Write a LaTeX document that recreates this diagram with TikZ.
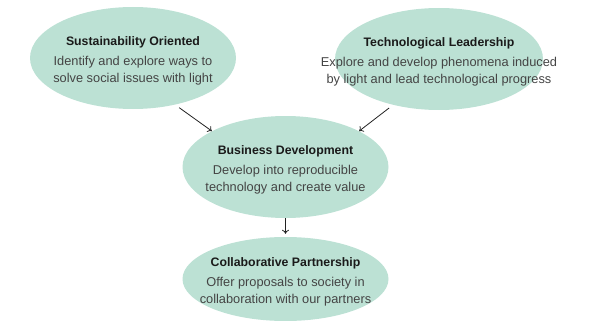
\documentclass[tikz,border=0pt]{standalone}
\usepackage{fontspec}
\setmainfont{Liberation Sans}
\usetikzlibrary{shapes.geometric,arrows.meta}
\definecolor{mint}{RGB}{188,225,212}
\definecolor{titleink}{RGB}{26,26,26}
\definecolor{bodyink}{RGB}{68,68,68}
\definecolor{arrowink}{RGB}{34,34,34}
\tikzset{
  bubble/.style={ellipse, fill=mint, draw=none, inner sep=0pt,
    minimum width=206pt, minimum height=102pt},
  textblock/.style={inner sep=0pt, align=center,
    font=\fontsize{12.8}{17}\selectfont, text=bodyink},
  link/.style={draw=arrowink, line width=0.8pt, -{To[length=4pt,width=7pt]}},
}
\newcommand{\bubbletitle}[1]{{\fontsize{12.3}{17}\selectfont\bfseries\color{titleink}#1}\\[3pt]}
\begin{document}
\begin{tikzpicture}[x=1pt,y=-1pt]
  \useasboundingbox (0,0) rectangle (592,321);
  % ellipses
  \node[bubble] (sus) at (133,58) {};
  \node[bubble, minimum width=208pt] (tech) at (439,59) {};
  \node[bubble] (bus) at (285.5,167) {};
  \node[bubble, minimum height=84pt] (col) at (285.5,279) {};
  % texts
  \node[textblock] (sustext) at ([yshift=-2.5pt]sus.center)
    {\bubbletitle{Sustainability Oriented}Identify and explore ways to\\solve social issues with light};
  \node[textblock] (techtext) at ([yshift=-2.5pt]tech.center)
    {\bubbletitle{Technological Leadership}Explore and develop phenomena induced\\by light and lead technological progress};
  \node[textblock] (bustext) at ([yshift=-2.5pt]bus.center)
    {\bubbletitle{Business Development}Develop into reproducible\\technology and create value};
  \node[textblock] (coltext) at ([yshift=-2.5pt]col.center)
    {\bubbletitle{Collaborative Partnership}Offer proposals to society in\\collaboration with our partners};
  % connectors
  \draw[link, shorten <=5pt] (sus.-48) -- (bus.154);
  \draw[link, shorten <=5pt] (tech.-135) -- (bus.26);
  \draw[link, shorten >=3pt] (bus.south) -- (col.north);
\end{tikzpicture}
\end{document}
